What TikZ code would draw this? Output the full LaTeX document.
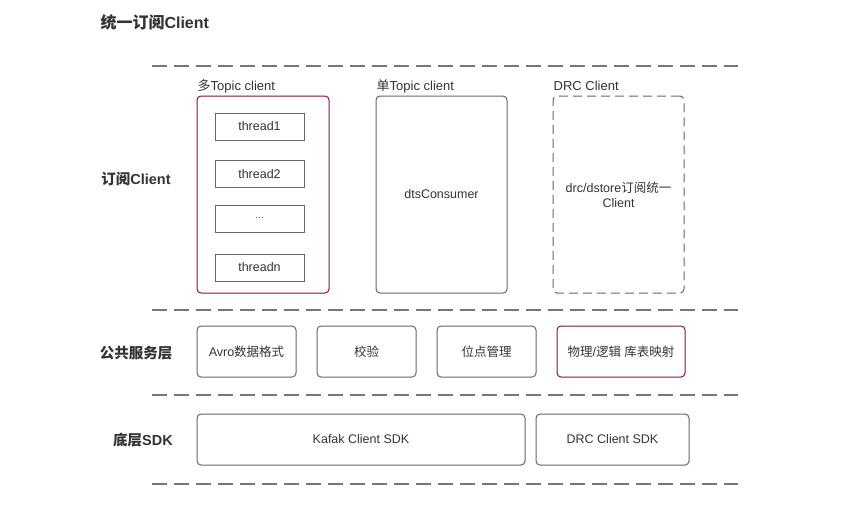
\documentclass[tikz,border=0pt]{standalone}
\usepackage{fontspec}
\setmainfont{Liberation Sans}
\newfontfamily\cjk{Noto Sans CJK SC}
\usetikzlibrary{positioning}

\definecolor{txtcol}{HTML}{333333}
\definecolor{linecol}{HTML}{666666}
\definecolor{sepcol}{HTML}{777777}
\definecolor{redcol}{HTML}{7A1A33}

\tikzset{
	box/.style={draw=linecol, rounded corners=4pt, line width=1pt, text=txtcol, font=\fontsize{12.5}{15}\selectfont, align=center, inner sep=0pt},
	redbox/.style={box, draw=redcol},
	dashbox/.style={box, dash pattern=on 9pt off 5pt},
	threadbox/.style={box, rounded corners=0pt, minimum width=89pt, minimum height=27pt},
	layerlabel/.style={text=txtcol, font=\fontsize{14.5}{17}\bfseries\selectfont},
	grouplabel/.style={text=txtcol, font=\fontsize{13}{15}\selectfont, inner sep=1pt, anchor=base west},
	sepline/.style={draw=sepcol, line width=1.8pt, dash pattern=on 14.5pt off 7.5pt},
}

\begin{document}
\begin{tikzpicture}[x=1pt, y=-1pt]
	\useasboundingbox (0,0) rectangle (854,525);
	% title
	\node[text=txtcol, font=\fontsize{16}{18}\bfseries\selectfont, anchor=west] (title) at (97,22) {{\cjk 统一订阅}Client};
	% separators
	\foreach \y in {66, 310, 395, 484} {
		\draw[sepline] (152,\y) -- (738,\y);
	}
	% layer labels
	\node[layerlabel] (lsub) at (136,179) {{\cjk 订阅}Client};
	\node[layerlabel] (lpub) at (136,353) {\cjk 公共服务层};
	\node[layerlabel] (lsdk) at (143,440) {{\cjk 底层}SDK};
	
	% subscription clients
	\node[redbox, minimum width=132pt, minimum height=197pt] (multi) at (263,194.5) {};
	\node[box, minimum width=131pt, minimum height=197pt] (single) at (441.5,194.5) {dtsConsumer};
	\node[dashbox, minimum width=131pt, minimum height=197pt] (drc) at (618.5,194.5) {drc/dstore{\cjk 订阅统一}\\Client};
	\node[grouplabel] (multilbl) at ([yshift=5pt]multi.north west) {{\cjk 多}Topic client};
	\node[grouplabel] (singlelbl) at ([yshift=5pt]single.north west) {{\cjk 单}Topic client};
	\node[grouplabel] (drclbl) at ([yshift=5pt]drc.north west) {DRC Client};
	
	\node[threadbox] (t1) at (259.5,126.5) {thread1};
	\node[threadbox] (t2) at (259.5,174) {thread2};
	\node[threadbox, font=\fontsize{9}{10}\selectfont] (tdots) at (259.5,218.5) {\ldots};
	\node[threadbox] (tn) at (259.5,267.5) {threadn};
	
	% common services
	\node[box, minimum width=99pt, minimum height=51pt] (avro) at (246.5,351.5) {Avro{\cjk 数据格式}};
	\node[box, minimum width=99pt, minimum height=51pt] (check) at (366.5,351.5) {\cjk 校验};
	\node[box, minimum width=99pt, minimum height=51pt] (offset) at (486.5,351.5) {\cjk 位点管理};
	\node[redbox, minimum width=128pt, minimum height=51pt] (mapping) at (621,351.5) {{\cjk 物理}/{\cjk 逻辑} {\cjk 库表映射}};
	
	% sdk
	\node[box, minimum width=328pt, minimum height=51pt] (kafka) at (361,439.5) {Kafak Client SDK};
	\node[box, minimum width=153pt, minimum height=51pt] (drcsdk) at (612.5,439.5) {DRC Client SDK};
\end{tikzpicture}
\end{document}
